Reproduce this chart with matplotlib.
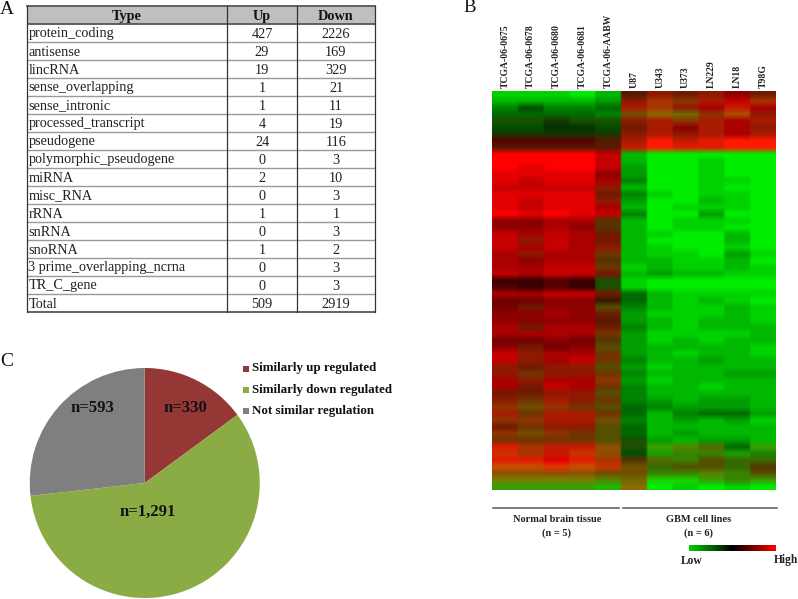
import numpy as np
import matplotlib
matplotlib.use('Agg')
import matplotlib.pyplot as plt
from matplotlib.colors import LinearSegmentedColormap

plt.rcParams['font.family'] = ['Liberation Serif', 'DejaVu Serif']

# Panel A table
types = ['protein_coding', 'antisense', 'lincRNA', 'sense_overlapping', 'sense_intronic',
         'processed_transcript', 'pseudogene', 'polymorphic_pseudogene', 'miRNA', 'misc_RNA',
         'rRNA', 'snRNA', 'snoRNA', '3 prime_overlapping_ncrna', 'TR_C_gene', 'Total']
up = [427, 29, 19, 1, 1, 4, 24, 0, 2, 0, 1, 0, 1, 0, 0, 509]
down = [2226, 169, 329, 21, 11, 19, 116, 3, 10, 3, 1, 3, 2, 3, 3, 2919]

# Panel C pie
pie_labels = ['Similarly up regulated', 'Similarly down regulated', 'Not similar regulation']
pie_counts = [330, 1291, 593]
pie_text = ['n=330', 'n=1,291', 'n=593']
pie_colors = ['#953735', '#8BAC45', '#7F7F7F']

# Panel B heatmap
samples = ['TCGA-06-0675', 'TCGA-06-0678', 'TCGA-06-0680', 'TCGA-06-0681', 'TCGA-06-AABW',
           'U87', 'U343', 'U373', 'LN229', 'LN18', 'T98G']

# levels 0-9 read per band, top to bottom, red and green channel separately
heat_red = [
    [0, 0, 0, 0, 0, 3, 5, 4, 5, 5, 4],
    [0, 0, 0, 0, 0, 5, 6, 5, 6, 7, 6],
    [0, 0, 0, 0, 0, 6, 6, 5, 6, 7, 6],
    [0, 0, 0, 0, 0, 4, 5, 4, 5, 6, 5],
    [1, 1, 1, 1, 1, 5, 6, 5, 6, 6, 6],
    [0, 0, 0, 0, 0, 4, 6, 5, 6, 6, 5],
    [1, 1, 1, 1, 1, 5, 6, 5, 6, 6, 6],
    [3, 3, 3, 3, 3, 6, 9, 7, 8, 9, 9],
    [3, 3, 3, 3, 3, 7, 9, 8, 8, 9, 9],
    [9, 9, 9, 9, 7, 0, 0, 0, 0, 0, 0],
    [9, 9, 9, 9, 7, 0, 0, 0, 0, 0, 0],
    [9, 8, 9, 9, 7, 0, 0, 0, 0, 0, 0],
    [8, 8, 8, 8, 5, 0, 0, 0, 0, 0, 0],
    [8, 7, 8, 8, 6, 0, 0, 0, 0, 0, 0],
    [7, 7, 7, 7, 5, 0, 0, 0, 0, 0, 0],
    [8, 8, 8, 8, 4, 0, 0, 0, 0, 0, 0],
    [8, 7, 8, 8, 5, 0, 0, 0, 0, 0, 0],
    [8, 7, 8, 8, 6, 0, 0, 0, 0, 0, 0],
    [9, 8, 9, 8, 7, 0, 0, 0, 0, 0, 0],
    [5, 5, 6, 6, 3, 0, 0, 0, 0, 0, 0],
    [5, 5, 6, 5, 3, 0, 0, 0, 0, 0, 0],
    [7, 6, 7, 6, 4, 0, 0, 0, 0, 0, 0],
    [7, 5, 7, 6, 4, 0, 0, 0, 0, 0, 0],
    [7, 6, 7, 6, 5, 0, 0, 0, 0, 0, 0],
    [6, 5, 6, 6, 4, 0, 0, 0, 0, 0, 0],
    [6, 5, 6, 6, 3, 0, 0, 0, 0, 0, 0],
    [6, 6, 7, 7, 4, 0, 0, 0, 0, 0, 0],
    [7, 6, 7, 7, 4, 0, 0, 0, 0, 0, 0],
    [2, 2, 3, 2, 1, 0, 0, 0, 0, 0, 0],
    [3, 2, 3, 2, 1, 0, 0, 0, 0, 0, 0],
    [6, 6, 7, 7, 4, 0, 0, 0, 0, 0, 0],
    [4, 4, 5, 5, 2, 0, 0, 0, 0, 0, 0],
    [4, 4, 5, 5, 3, 0, 0, 0, 0, 0, 0],
    [5, 5, 6, 5, 4, 0, 0, 0, 0, 0, 0],
    [5, 5, 5, 5, 3, 0, 0, 0, 0, 0, 0],
    [6, 4, 6, 6, 4, 0, 0, 0, 0, 0, 0],
    [6, 6, 6, 6, 4, 0, 0, 0, 0, 0, 0],
    [4, 4, 5, 4, 3, 0, 0, 0, 0, 0, 0],
    [5, 4, 4, 5, 3, 0, 0, 0, 0, 0, 0],
    [7, 5, 6, 6, 4, 0, 0, 0, 0, 0, 0],
    [7, 5, 6, 7, 4, 0, 0, 0, 0, 0, 0],
    [5, 4, 5, 5, 3, 0, 0, 0, 0, 0, 0],
    [5, 4, 5, 5, 4, 0, 0, 0, 0, 0, 0],
    [6, 5, 6, 6, 5, 0, 0, 0, 0, 0, 0],
    [6, 4, 7, 6, 4, 0, 0, 0, 0, 0, 0],
    [4, 4, 5, 5, 3, 0, 0, 0, 0, 0, 0],
    [5, 4, 6, 5, 4, 0, 0, 0, 0, 0, 0],
    [5, 4, 5, 4, 3, 0, 0, 0, 0, 0, 0],
    [6, 4, 6, 6, 4, 0, 0, 0, 0, 0, 0],
    [5, 5, 6, 6, 4, 0, 0, 0, 0, 0, 0],
    [4, 4, 5, 5, 3, 0, 0, 0, 0, 0, 0],
    [5, 4, 5, 4, 3, 0, 0, 0, 0, 0, 0],
    [4, 4, 4, 4, 3, 1, 0, 0, 0, 0, 0],
    [8, 6, 7, 7, 5, 1, 2, 3, 3, 0, 2],
    [7, 6, 7, 7, 5, 0, 1, 2, 2, 1, 1],
    [8, 8, 8, 8, 6, 3, 3, 2, 3, 2, 2],
    [7, 7, 8, 7, 7, 4, 2, 3, 3, 2, 3],
    [5, 5, 5, 5, 4, 4, 2, 2, 3, 2, 3],
    [4, 4, 4, 4, 3, 4, 1, 1, 2, 2, 2],
    [2, 2, 2, 2, 1, 5, 0, 0, 0, 0, 0],
]
heat_green = [
    [8, 8, 8, 9, 7, 1, 1, 1, 1, 0, 1],
    [7, 7, 7, 7, 6, 1, 2, 2, 1, 0, 2],
    [5, 3, 5, 5, 4, 1, 2, 1, 0, 1, 0],
    [4, 4, 4, 4, 5, 3, 4, 4, 2, 3, 1],
    [3, 3, 2, 3, 3, 1, 1, 2, 1, 0, 1],
    [3, 3, 2, 2, 3, 1, 1, 0, 1, 0, 1],
    [2, 2, 2, 2, 2, 1, 1, 1, 1, 0, 1],
    [0, 0, 0, 0, 1, 1, 1, 1, 1, 1, 1],
    [1, 1, 1, 1, 1, 1, 1, 1, 1, 1, 1],
    [0, 0, 0, 0, 0, 7, 9, 9, 9, 9, 9],
    [0, 0, 0, 0, 0, 7, 9, 9, 8, 9, 9],
    [0, 0, 0, 0, 0, 6, 9, 9, 8, 9, 9],
    [0, 0, 0, 0, 0, 6, 9, 9, 8, 9, 9],
    [0, 0, 0, 0, 0, 5, 9, 9, 8, 8, 9],
    [0, 0, 0, 0, 1, 7, 9, 9, 8, 9, 9],
    [0, 0, 0, 0, 1, 5, 8, 9, 8, 8, 9],
    [0, 0, 0, 0, 1, 6, 9, 9, 7, 8, 9],
    [0, 0, 0, 0, 0, 7, 9, 8, 8, 8, 9],
    [0, 0, 0, 0, 0, 5, 9, 9, 6, 9, 9],
    [0, 0, 0, 0, 2, 7, 9, 8, 8, 8, 9],
    [0, 0, 0, 0, 2, 7, 9, 8, 8, 9, 9],
    [0, 0, 0, 0, 1, 7, 8, 9, 9, 7, 9],
    [0, 1, 0, 0, 1, 7, 9, 9, 9, 7, 9],
    [0, 0, 0, 0, 1, 7, 8, 9, 9, 8, 9],
    [0, 1, 0, 0, 2, 7, 8, 8, 9, 6, 8],
    [0, 0, 0, 0, 2, 7, 7, 8, 8, 7, 9],
    [0, 0, 0, 0, 2, 8, 7, 8, 8, 7, 8],
    [0, 0, 0, 0, 1, 7, 6, 7, 7, 8, 8],
    [0, 0, 0, 0, 3, 8, 9, 9, 9, 9, 9],
    [0, 0, 0, 0, 3, 8, 9, 9, 9, 9, 9],
    [0, 0, 0, 0, 1, 4, 7, 8, 8, 8, 8],
    [0, 0, 0, 0, 1, 4, 7, 8, 7, 8, 9],
    [0, 1, 0, 0, 3, 5, 7, 8, 8, 7, 8],
    [0, 0, 0, 0, 1, 6, 8, 8, 8, 7, 8],
    [0, 0, 0, 0, 1, 6, 7, 8, 7, 7, 8],
    [0, 1, 0, 0, 1, 5, 7, 8, 7, 7, 7],
    [0, 0, 0, 0, 2, 6, 8, 8, 8, 8, 7],
    [0, 0, 0, 0, 2, 6, 8, 7, 8, 7, 7],
    [0, 1, 0, 0, 3, 6, 7, 7, 7, 7, 8],
    [0, 1, 0, 0, 2, 6, 7, 8, 7, 7, 8],
    [0, 1, 0, 0, 2, 5, 7, 7, 6, 7, 7],
    [1, 1, 1, 1, 3, 6, 8, 7, 7, 7, 7],
    [1, 2, 1, 1, 2, 5, 7, 7, 7, 6, 6],
    [0, 1, 0, 0, 2, 6, 8, 7, 7, 7, 7],
    [0, 1, 0, 0, 2, 5, 7, 7, 8, 7, 7],
    [1, 1, 1, 1, 3, 5, 7, 7, 7, 7, 7],
    [1, 2, 1, 1, 2, 5, 6, 7, 6, 6, 7],
    [2, 3, 2, 2, 3, 4, 5, 6, 6, 6, 7],
    [1, 2, 1, 1, 2, 4, 7, 5, 4, 4, 6],
    [2, 2, 1, 1, 3, 5, 7, 6, 7, 6, 8],
    [1, 2, 1, 1, 3, 4, 7, 7, 7, 7, 7],
    [2, 3, 2, 2, 3, 4, 7, 6, 7, 7, 7],
    [2, 2, 2, 2, 3, 3, 6, 7, 6, 6, 7],
    [1, 2, 1, 1, 3, 3, 6, 5, 4, 4, 6],
    [2, 2, 1, 2, 3, 3, 6, 5, 5, 6, 5],
    [1, 1, 0, 1, 2, 2, 4, 5, 3, 4, 4],
    [3, 3, 2, 3, 2, 3, 4, 3, 3, 4, 2],
    [3, 3, 3, 3, 3, 3, 5, 5, 5, 5, 3],
    [5, 5, 5, 5, 5, 4, 8, 8, 6, 5, 6],
    [6, 6, 6, 6, 7, 4, 9, 8, 9, 8, 9],
]

fig = plt.figure(figsize=(7.98, 5.99), dpi=100, facecolor='white')

# overlay in pixel coordinates, holds table, letters and annotations
ov = fig.add_axes([0, 0, 1, 1], zorder=5)
ov.set_xlim(0, 798)
ov.set_ylim(599, 0)
ov.axis('off')

ov.text(0, 9, 'A', fontsize=14, va='center', ha='left', color='#111111')
ov.text(463, 7, 'B', fontsize=13.5, va='center', ha='left', color='#111111')
ov.text(0, 361, 'C', fontsize=14, va='center', ha='left', color='#111111')

# table
col_x = [27, 227, 297, 375]
tab_top = 6
head_h = 18
row_h = 18
n_rows = len(types)
tab_bottom = tab_top + head_h + n_rows * row_h
ov.fill_between([col_x[0], col_x[-1]], tab_top, tab_top + head_h, color='#BFBFBF', lw=0)
for i in range(n_rows + 1):
    y = tab_top + head_h + i * row_h
    edge = i == 0 or i == n_rows
    ov.plot([col_x[0], col_x[-1]], [y, y], color='#555555' if edge else '#9A9A9A',
            lw=1.3 if edge else 1.0, solid_capstyle='butt')
ov.plot([col_x[0], col_x[-1]], [tab_top, tab_top], color='#555555', lw=1.3)
for x in col_x:
    ov.plot([x, x], [tab_top, tab_bottom], color='#333333', lw=0.9)

head_kw = dict(fontsize=10.3, fontweight='bold', va='center', ha='center', color='#111111')
ov.text(127, tab_top + 10.5, 'Type', **head_kw)
ov.text(262, tab_top + 10.5, 'Up', **head_kw)
ov.text(336, tab_top + 10.5, 'Down', **head_kw)
for i in range(n_rows):
    y = tab_top + head_h + (i + 0.5) * row_h + 1
    ov.text(col_x[0] + 1.5, y, types[i], fontsize=10.3, va='center', ha='left', color='#222222')
    ov.text(262, y, str(up[i]), fontsize=10.3, va='center', ha='center', color='#222222')
    ov.text(336, y, str(down[i]), fontsize=10.3, va='center', ha='center', color='#222222')

# heatmap, columns repeated so only the rows get smoothed
W, H = 798, 599
ax_heat = fig.add_axes([492 / W, 1 - 490 / H, 284 / W, 399 / H])
red = np.array(heat_red) / 9
green = np.array(heat_green) / 9 * 0.93
rgb = np.dstack([red, green, np.zeros_like(red)])
rgb = np.repeat(rgb, 10, axis=1)
ax_heat.imshow(rgb, aspect='auto', interpolation='bilinear', extent=(-0.5, 10.5, 59.5, -0.5))
ax_heat.set_xticks(range(len(samples)))
ax_heat.set_xticklabels(samples, rotation=90, fontsize=6.9, fontweight='bold', color='#222222')
ax_heat.xaxis.tick_top()
ax_heat.tick_params(axis='x', length=0, pad=2)
ax_heat.set_yticks([])
for s in ax_heat.spines.values():
    s.set_visible(False)

# group brackets under the heatmap
ov.plot([493, 619], [508, 508], color='#666666', lw=1.2)
ov.plot([623, 777], [508, 508], color='#666666', lw=1.2)
note_kw = dict(fontsize=7.5, fontweight='bold', va='center', ha='center', color='#222222')
ov.text(557, 520, 'Normal brain tissue', **note_kw)
ov.text(557, 533.5, '(n = 5)', **note_kw)
ov.text(699, 520, 'GBM cell lines', **note_kw)
ov.text(699, 533.5, '(n = 6)', **note_kw)

# colour key
key_cmap = LinearSegmentedColormap.from_list('key', ['#00D000', '#000000', '#FF0000'])
ax_key = fig.add_axes([689 / W, 1 - 551 / H, 87 / W, 6 / H])
ax_key.imshow(np.linspace(0, 1, 200)[None, :], aspect='auto', cmap=key_cmap)
ax_key.axis('off')
ov.text(681, 561.5, 'Low', fontsize=8.3, fontweight='bold', va='center', ha='left', color='#222222')
ov.text(798, 560.5, 'High', fontsize=8.3, fontweight='bold', va='center', ha='right', color='#222222')

# pie
ax_pie = fig.add_axes([29 / W, 1 - 598 / H, 231.5 / W, 230 / H])
ax_pie.pie(pie_counts, colors=pie_colors, startangle=90, counterclock=False, radius=1.0,
           wedgeprops=dict(linewidth=0))
ax_pie.set_xlim(-1, 1)
ax_pie.set_ylim(-1, 1)

pie_pos = [(185, 407.5), (148, 511.5), (92, 407.5)]
for (x, y), t in zip(pie_pos, pie_text):
    ov.text(x, y, t, fontsize=12, fontweight='bold', va='center', ha='center', color='#111111')
for i, lab in enumerate(pie_labels):
    y = 368.5 + i * 21.3
    ov.scatter([246], [y], marker='s', s=22, color=pie_colors[i], lw=0)
    ov.text(252, y, lab, fontsize=9.4, fontweight='bold', va='center', ha='left', color='#111111')

fig.savefig('out.png', dpi=100)
